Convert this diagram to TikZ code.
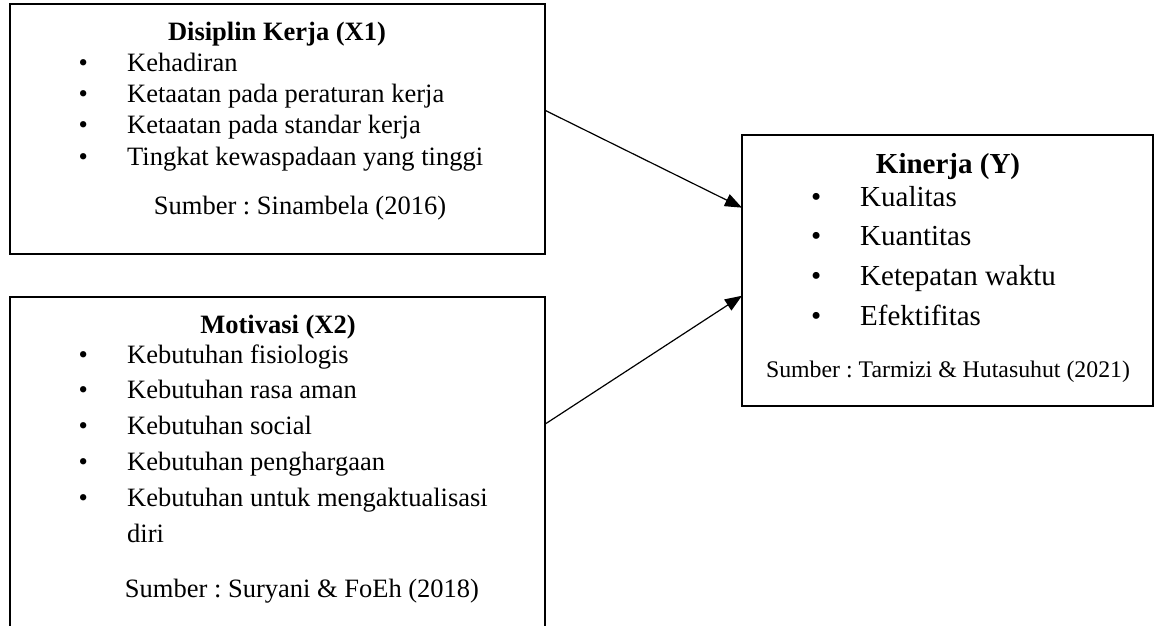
\documentclass[tikz,border=0pt]{standalone}
\usepackage{fontspec}
\setmainfont{Liberation Serif}
\usetikzlibrary{positioning, arrows.meta}
\newcommand{\itembullet}[1]{\makebox[#1][l]{\textbullet}}
\frenchspacing

\begin{document}
\begin{tikzpicture}[x=1pt, y=-1pt, >={Triangle[length=17pt, width=13pt]},
  box/.style={draw, rectangle, line width=2.2pt, outer sep=0pt},
  head/.style={inner sep=0pt, anchor=base, font=\fontsize{26.5}{30}\selectfont\bfseries},
  item/.style={inner sep=0pt, anchor=north west, text height=20pt, text depth=6pt, font=\fontsize{26.5}{30}\selectfont},
  src/.style={inner sep=0pt, anchor=base, font=\fontsize{26.5}{30}\selectfont}]
\useasboundingbox (0,0) rectangle (1155,625);
\clip (0,0) rectangle (1155,625);

\node[box, minimum width=535pt, minimum height=250pt] (disiplin) at (277.5,129) {};
\node[box, minimum width=535pt, minimum height=368pt] (motivasi) at (277.5,481) {};
\node[box, minimum width=411pt, minimum height=271pt] (kinerja) at (947.5,270.5) {};

% Disiplin Kerja
\node[head] (hdisiplin) at (277,40) {Disiplin Kerja (X1)};
\node[item, anchor=base west] (d1) at (78.5,71) {\itembullet{48.5pt}Kehadiran};
\node[below=5pt of d1.south west, item] (d2) {\itembullet{48.5pt}Ketaatan pada peraturan kerja};
\node[below=5pt of d2.south west, item] (d3) {\itembullet{48.5pt}Ketaatan pada standar kerja};
\node[below=5pt of d3.south west, item] (d4) {\itembullet{48.5pt}Tingkat kewaspadaan yang tinggi};
\node[src] (sdisiplin) at (300,214) {Sumber : Sinambela (2016)};

% Motivasi
\node[head] (hmotivasi) at (278,333) {Motivasi (X2)};
\node[item, anchor=base west] (m1) at (78.5,363) {\itembullet{48.5pt}Kebutuhan fisiologis};
\node[below=9.5pt of m1.south west, item] (m2) {\itembullet{48.5pt}Kebutuhan rasa aman};
\node[below=9.5pt of m2.south west, item] (m3) {\itembullet{48.5pt}Kebutuhan social};
\node[below=9.5pt of m3.south west, item] (m4) {\itembullet{48.5pt}Kebutuhan penghargaan};
\node[below=9.5pt of m4.south west, item] (m5) {\itembullet{48.5pt}Kebutuhan untuk mengaktualisasi};
\node[below=9.5pt of m5.south west, item, xshift=48.5pt] (m6) {diri};
\node[src] (smotivasi) at (302,597) {Sumber : Suryani \& FoEh (2018)};

% Kinerja
\node[head, font=\fontsize{29}{33}\selectfont\bfseries] (hkinerja) at (948,173) {Kinerja (Y)};
\node[item, anchor=base west, font=\fontsize{29}{33}\selectfont] (y1) at (811,206) {\itembullet{49pt}Kualitas};
\node[below=13.5pt of y1.south west, item, font=\fontsize{29}{33}\selectfont] (y2) {\itembullet{49pt}Kuantitas};
\node[below=13.5pt of y2.south west, item, font=\fontsize{29}{33}\selectfont] (y3) {\itembullet{49pt}Ketepatan waktu};
\node[below=13.5pt of y3.south west, item, font=\fontsize{29}{33}\selectfont] (y4) {\itembullet{49pt}Efektifitas};
\node[src, font=\fontsize{23.8}{27}\selectfont] (skinerja) at (948,377) {Sumber : Tarmizi \& Hutasuhut (2021)};

\draw[->, line width=1.2pt] (disiplin.4.49) -- (kinerja.163.85);
\draw[->, line width=1.2pt] (motivasi.12.44) -- (kinerja.187.07);
\end{tikzpicture}
\end{document}
